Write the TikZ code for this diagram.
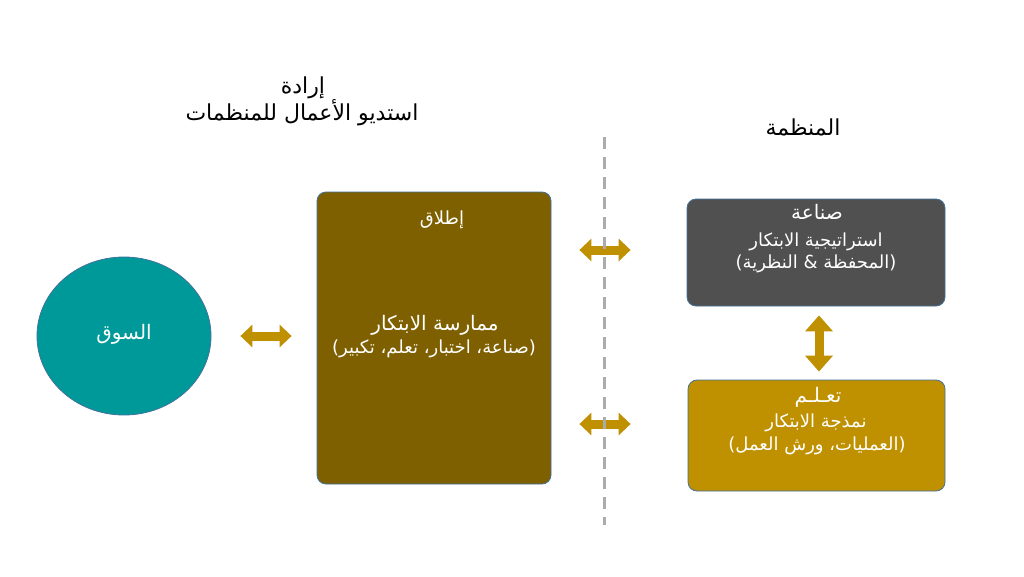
\documentclass[tikz,border=0pt]{standalone}
\usepackage{fontspec}
\newfontfamily\arabicfont[Script=Arabic]{DejaVu Sans}
\TeXXeTstate=1
\usetikzlibrary{arrows.meta,shapes.geometric}
\definecolor{tealfill}{HTML}{009999}
\definecolor{olivefill}{HTML}{7F6000}
\definecolor{grayfill}{HTML}{505050}
\definecolor{goldfill}{HTML}{BF9000}
\definecolor{edgeblue}{HTML}{41719C}
\definecolor{dashgray}{HTML}{ABABAB}
\tikzset{
  panel/.style={draw=edgeblue, line width=0.8pt, rounded corners=9pt, inner sep=0pt},
  wlabel/.style={text=white, inner sep=0pt, font=\arabicfont\fontsize{18}{21}\selectfont},
  whead/.style={text=white, inner sep=0pt, font=\arabicfont\fontsize{20}{23}\selectfont},
  blabel/.style={text=black, inner sep=0pt, font=\arabicfont\fontsize{22}{26}\selectfont},
  hblock/.style={draw=goldfill, line width=9pt, {Triangle[length=12pt,width=22pt]}-{Triangle[length=12pt,width=22pt]}},
  vblock/.style={draw=goldfill, line width=9pt, {Triangle[length=16pt,width=27pt]}-{Triangle[length=16pt,width=27pt]}},
  divider/.style={draw=dashgray, line width=3pt, dash pattern=on 12pt off 8pt}
}
\begin{document}
\begin{tikzpicture}[x=1pt,y=-1pt]
\useasboundingbox[fill=white] (0,0) rectangle (1024,576);

% titles
\node[blabel] (t1) at (303,88) {\beginR إرادة\endR};
\node[blabel] (t2) at (302,113) {\beginR استديو الأعمال للمنظمات\endR};
\node[blabel] (t3) at (803,127) {\beginR المنظمة\endR};

% market circle
\node[ellipse, draw=edgeblue, line width=0.8pt, fill=tealfill, minimum width=174pt, minimum height=158pt, inner sep=0pt] (market) at (124,336) {};
\node[whead] (marketlbl) at (124,334) {\beginR السوق\endR};

% middle box
\node[panel, fill=olivefill, minimum width=234pt, minimum height=292pt] (practice) at (434,338) {};
\node[wlabel] (launch) at (442,220) {\beginR إطلاق\endR};
\node[whead] (prac1) at (435,325) {\beginR ممارسة الابتكار\endR};
\node[wlabel] (prac2) at (434,349) {\beginR (صناعة، اختبار، تعلم، تكبير)\endR};

% strategy box
\node[panel, fill=grayfill, minimum width=258pt, minimum height=107pt] (strategy) at (816,252.5) {};
\node[whead] (make) at (817,212) {\beginR صناعة\endR};
\node[wlabel] (str1) at (816,242) {\beginR استراتيجية الابتكار\endR};
\node[wlabel] (str2) at (816,264) {\beginR (المحفظة \& النظرية)\endR};

% learn box
\node[panel, fill=goldfill, minimum width=257pt, minimum height=111pt] (learn) at (816.5,435.5) {};
\node[whead] (lrn) at (818,397) {\beginR تعـلـم\endR};
\node[wlabel] (lrn1) at (816,423) {\beginR نمذجة الابتكار\endR};
\node[wlabel] (lrn2) at (817,446) {\beginR (العمليات، ورش العمل)\endR};

% block arrows
\draw[hblock, shorten <=29pt, shorten >=25pt] (market.east) -- (practice.west |- market.east);
\draw[hblock, shorten <=28pt, shorten >=56pt] (practice.east |- 0,250) -- (strategy.west |- 0,250);
\draw[hblock, shorten <=28pt, shorten >=57pt] (practice.east |- 0,424) -- (learn.west |- 0,424);
\draw[vblock, shorten <=9pt, shorten >=8pt] (strategy.south -| 819,0) -- (learn.north -| 819,0);

% divider
\coordinate (dtop) at (604,137);
\coordinate (dbot) at (604,525);
\draw[divider] (dtop) -- (dbot);
\end{tikzpicture}
\end{document}
